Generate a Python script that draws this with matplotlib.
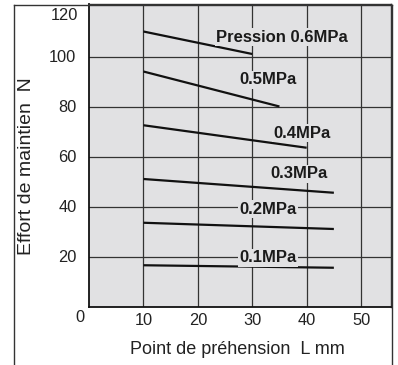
import matplotlib.pyplot as plt
from matplotlib.lines import Line2D

plt.rcParams['font.family'] = ['Liberation Sans', 'DejaVu Sans']

# Données : (L début, L fin), (effort début, effort fin)
pressures = ['Pression 0.6MPa', '0.5MPa', '0.4MPa', '0.3MPa', '0.2MPa', '0.1MPa']
x_start = [10, 10, 10, 10, 10, 10]
x_end = [30, 35, 40, 45, 45, 45]
y_start = [110, 94, 72.5, 51, 33.5, 16.5]
y_end = [101, 80, 63.5, 45.5, 31, 15.5]
label_x = [35.5, 32.9, 39.2, 38.6, 32.9, 32.9]
label_y = [107.8, 90.6, 69.4, 53, 39, 19.4]

x_ticks = [10, 20, 30, 40, 50]
y_ticks = [20, 40, 60, 80, 100]

bg = '#e1e1e3'

fig = plt.figure(figsize=(3.98, 3.65), dpi=100)
ax = fig.add_axes([89 / 398, 1 - 306.5 / 365, (391 - 89) / 398, (306.5 - 4) / 365])
ax.set_facecolor(bg)

for k in range(len(pressures)):
    ax.plot([x_start[k], x_end[k]], [y_start[k], y_end[k]], color='#111111', lw=1.6,
            solid_capstyle='butt', zorder=3)
    ax.text(label_x[k], label_y[k], pressures[k], fontsize=12, fontweight='bold',
            ha='center', va='center', color='#1a1a1a', zorder=4,
            bbox=dict(facecolor=bg, edgecolor='none', pad=1.2))

ax.set_xlim(0, 55.5)
ax.set_ylim(0, 121)
ax.set_xticks(x_ticks)
ax.set_yticks(y_ticks)
ax.tick_params(length=0, labelsize=11.8, colors='#222222', pad=5)
ax.tick_params(axis='y', pad=9)
ax.grid(True, color='#333333', lw=0.9)
ax.set_axisbelow(True)
for s in ['top', 'right']:
    ax.spines[s].set_color('#333333')
    ax.spines[s].set_linewidth(1.0)
for s in ['left', 'bottom']:
    ax.spines[s].set_color('#111111')
    ax.spines[s].set_linewidth(1.3)

# étiquettes d'angle
fig.text(80 / 398, 1 - 318 / 365, '0', fontsize=11.8, ha='center', va='center', color='#222222')
fig.text(78 / 398, 1 - 16 / 365, '120', fontsize=11.8, ha='right', va='center', color='#222222')

fig.text(237 / 398, 1 - 349 / 365, 'Point de préhension  L mm', fontsize=13,
         ha='center', va='center', color='#222222')
fig.text(27 / 398, 1 - 166 / 365, 'Effort de maintien  N', fontsize=14, rotation=90,
         ha='center', va='center', color='#222222')

# cadre extérieur
fx0, fx1, fy = 13.5 / 398, 391.5 / 398, 1 - 4.5 / 365
for xs, ys in [([fx0, fx0], [0, fy]), ([fx0, fx1], [fy, fy]), ([fx1, fx1], [0, fy])]:
    fig.add_artist(Line2D(xs, ys, color='#333333', lw=1.0, transform=fig.transFigure))

fig.savefig('out.png', dpi=100)
